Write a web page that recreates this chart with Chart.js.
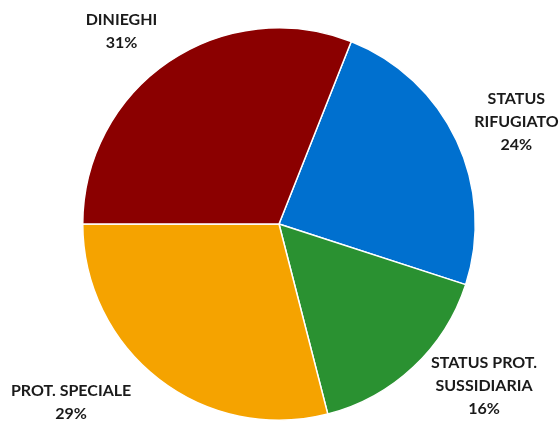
<!DOCTYPE html>
<html>
<head>
<meta charset="utf-8">
<script src="https://cdn.jsdelivr.net/npm/chart.js@4/dist/chart.umd.min.js"></script>
<style>
  html, body { margin: 0; padding: 0; background: #ffffff; }
  #wrap { width: 559px; height: 423px; }
</style>
</head>
<body>
<div id="wrap"><canvas id="c" width="559" height="423"></canvas></div>
<script>
// Esiti delle domande di protezione
const categories = [
  ['STATUS', 'RIFUGIATO'],
  ['STATUS PROT.', 'SUSSIDIARIA'],
  ['PROT. SPECIALE'],
  ['DINIEGHI']
];
const shares = [24, 16, 29, 31];
const sliceColors = ['#0070CF', '#2A9131', '#F5A300', '#8B0000'];

// Label placement around the pie: angle shift (deg) and distance beyond the rim (px)
const labelLayout = [
  { shift: 2, gap: 62 },
  { shift: -8.5, gap: 65 },
  { shift: 11.5, gap: 78 },
  { shift: -5, gap: 53 }
];

const outsideLabels = {
  id: 'outsideLabels',
  afterDatasetsDraw(chart) {
    const ctx = chart.ctx;
    const meta = chart.getDatasetMeta(0);
    ctx.save();
    ctx.font = 'bold 16px Lato, "Open Sans", sans-serif';
    ctx.fillStyle = '#1a1a1a';
    ctx.textAlign = 'center';
    ctx.textBaseline = 'middle';
    const lineH = 23;
    meta.data.forEach((arc, i) => {
      const p = arc.getProps(['x', 'y', 'startAngle', 'endAngle', 'outerRadius'], true);
      const mid = (p.startAngle + p.endAngle) / 2 + labelLayout[i].shift * Math.PI / 180;
      const r = p.outerRadius + labelLayout[i].gap;
      const cx = p.x + Math.cos(mid) * r;
      const cy = p.y + Math.sin(mid) * r;
      const lines = categories[i].concat([shares[i] + '%']);
      const top = cy - (lines.length - 1) * lineH / 2;
      lines.forEach((t, k) => ctx.fillText(t, cx, top + k * lineH));
    });
    ctx.restore();
  }
};

new Chart(document.getElementById('c'), {
  type: 'pie',
  data: {
    labels: categories.map(c => c.join(' ')),
    datasets: [{
      data: shares,
      backgroundColor: sliceColors,
      borderColor: '#ffffff',
      borderWidth: 1.5
    }]
  },
  options: {
    responsive: false,
    animation: false,
    rotation: 21.6,
    layout: { padding: { top: 27, bottom: 2, left: 0, right: 1 } },
    plugins: {
      legend: { display: false },
      tooltip: { enabled: false }
    }
  },
  plugins: [outsideLabels]
});
</script>
</body>
</html>
